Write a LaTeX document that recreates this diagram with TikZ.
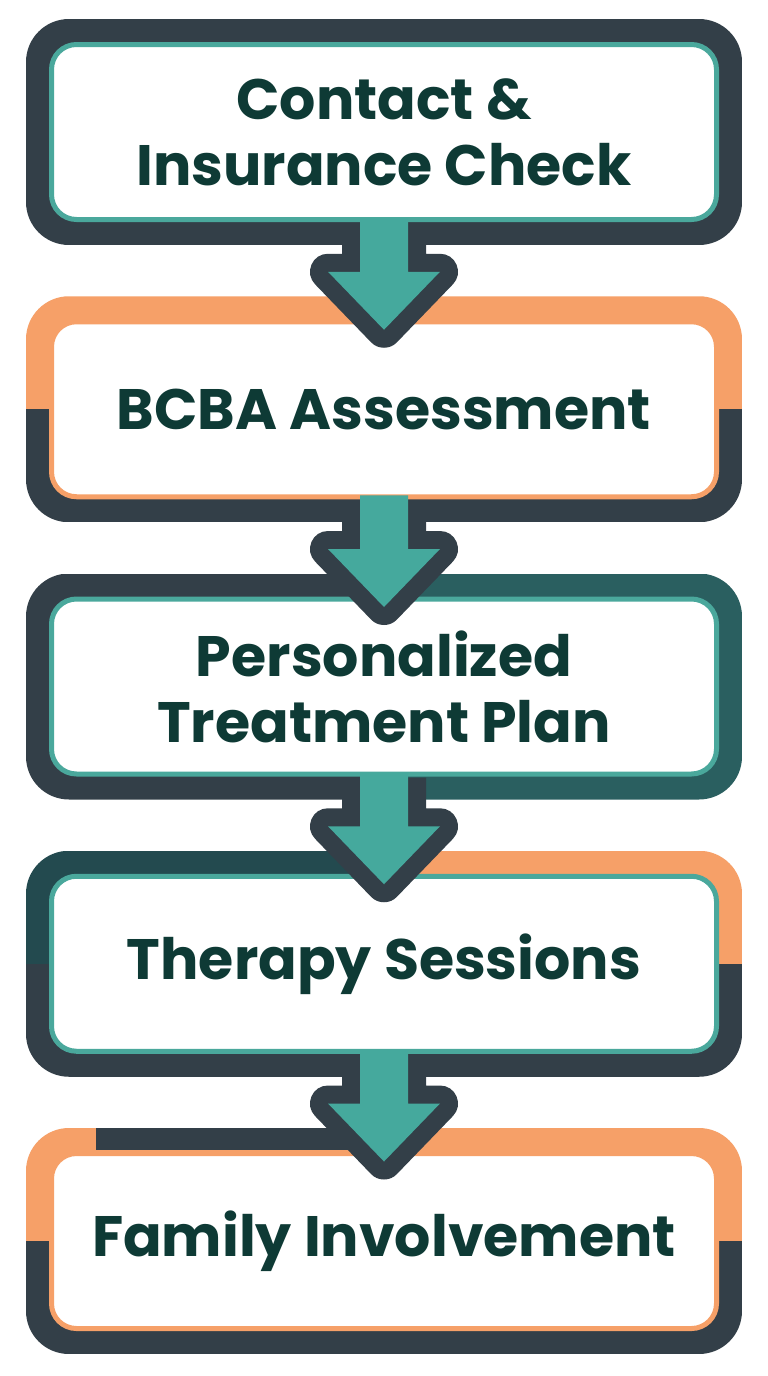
\documentclass[tikz,border=0pt]{standalone}
\usepackage{fontspec}
\setmainfont{Poppins}
\usetikzlibrary{calc}

\definecolor{slate}{RGB}{51,63,72}
\definecolor{ringteal}{RGB}{74,168,156}
\definecolor{arrowteal}{RGB}{69,169,157}
\definecolor{orange}{RGB}{246,160,104}
\definecolor{deepteal}{RGB}{42,95,96}
\definecolor{nightteal}{RGB}{35,74,79}
\definecolor{inktext}{RGB}{14,58,53}

\tikzset{
	stepbox/.style={rectangle, rounded corners=25, line width=5, fill=white,
		minimum width=665, minimum height=175, inner sep=0, outer sep=0,
		align=center, text=inktext, font=\bfseries\fontsize{57}{66}\selectfont},
	arrowedge/.style={draw=slate, line width=36, line join=round}
}

\begin{document}
\begin{tikzpicture}[x=1pt,y=-1pt]
	\useasboundingbox (0,0) rectangle (768,1376);
	\fill[white] (0,0) rectangle (768,1376);
	
	% boxes: outer band in four quarters, then the inner node
	\foreach \i/\cy/\tl/\tr/\bl/\br/\rc/\txt in {
		1/132/slate/slate/slate/slate/ringteal/{Contact \&\\Insurance Check},
		2/409.25/orange/orange/slate/slate/orange/{BCBA Assessment},
		3/686.5/slate/deepteal/slate/deepteal/ringteal/{Personalized\\Treatment Plan},
		4/963.75/nightteal/orange/slate/slate/ringteal/{Therapy Sessions},
		5/1241/orange/orange/slate/slate/orange/{Family Involvement}}
	{
		\begin{scope}
			\clip[rounded corners=43] (26,\cy-113) rectangle (742,\cy+113);
			\fill[\tl] (26,\cy-113) rectangle (384,\cy);
			\fill[\tr] (384,\cy-113) rectangle (742,\cy);
			\fill[\bl] (26,\cy) rectangle (384,\cy+113);
			\fill[\br] (384,\cy) rectangle (742,\cy+113);
			\ifnum\i=5
				\fill[slate] (96,\cy-113) rectangle (380,\cy-91);
			\fi
		\end{scope}
		\node[stepbox, draw=\rc] (b\i) at (384,\cy) {\txt};
	}
	
	% block arrows between the boxes
	\foreach \i/\j in {1/2,2/3,3/4,4/5}{
		\draw[arrowedge] ($(b\i.south)+(-24,3.5)$) -- ($(b\j.north)+(-24,-50)$)
			-- ($(b\j.north)+(-56,-50)$) -- ($(b\j.north)+(0,8)$)
			-- ($(b\j.north)+(56,-50)$) -- ($(b\j.north)+(24,-50)$)
			-- ($(b\i.south)+(24,3.5)$);
		\fill[arrowteal] ($(b\i.south)+(-24,-1.5)$) -- ($(b\j.north)+(-24,-50)$)
			-- ($(b\j.north)+(-56,-50)$) -- ($(b\j.north)+(0,8)$)
			-- ($(b\j.north)+(56,-50)$) -- ($(b\j.north)+(24,-50)$)
			-- ($(b\i.south)+(24,-1.5)$) -- cycle;
	}
\end{tikzpicture}
\end{document}
